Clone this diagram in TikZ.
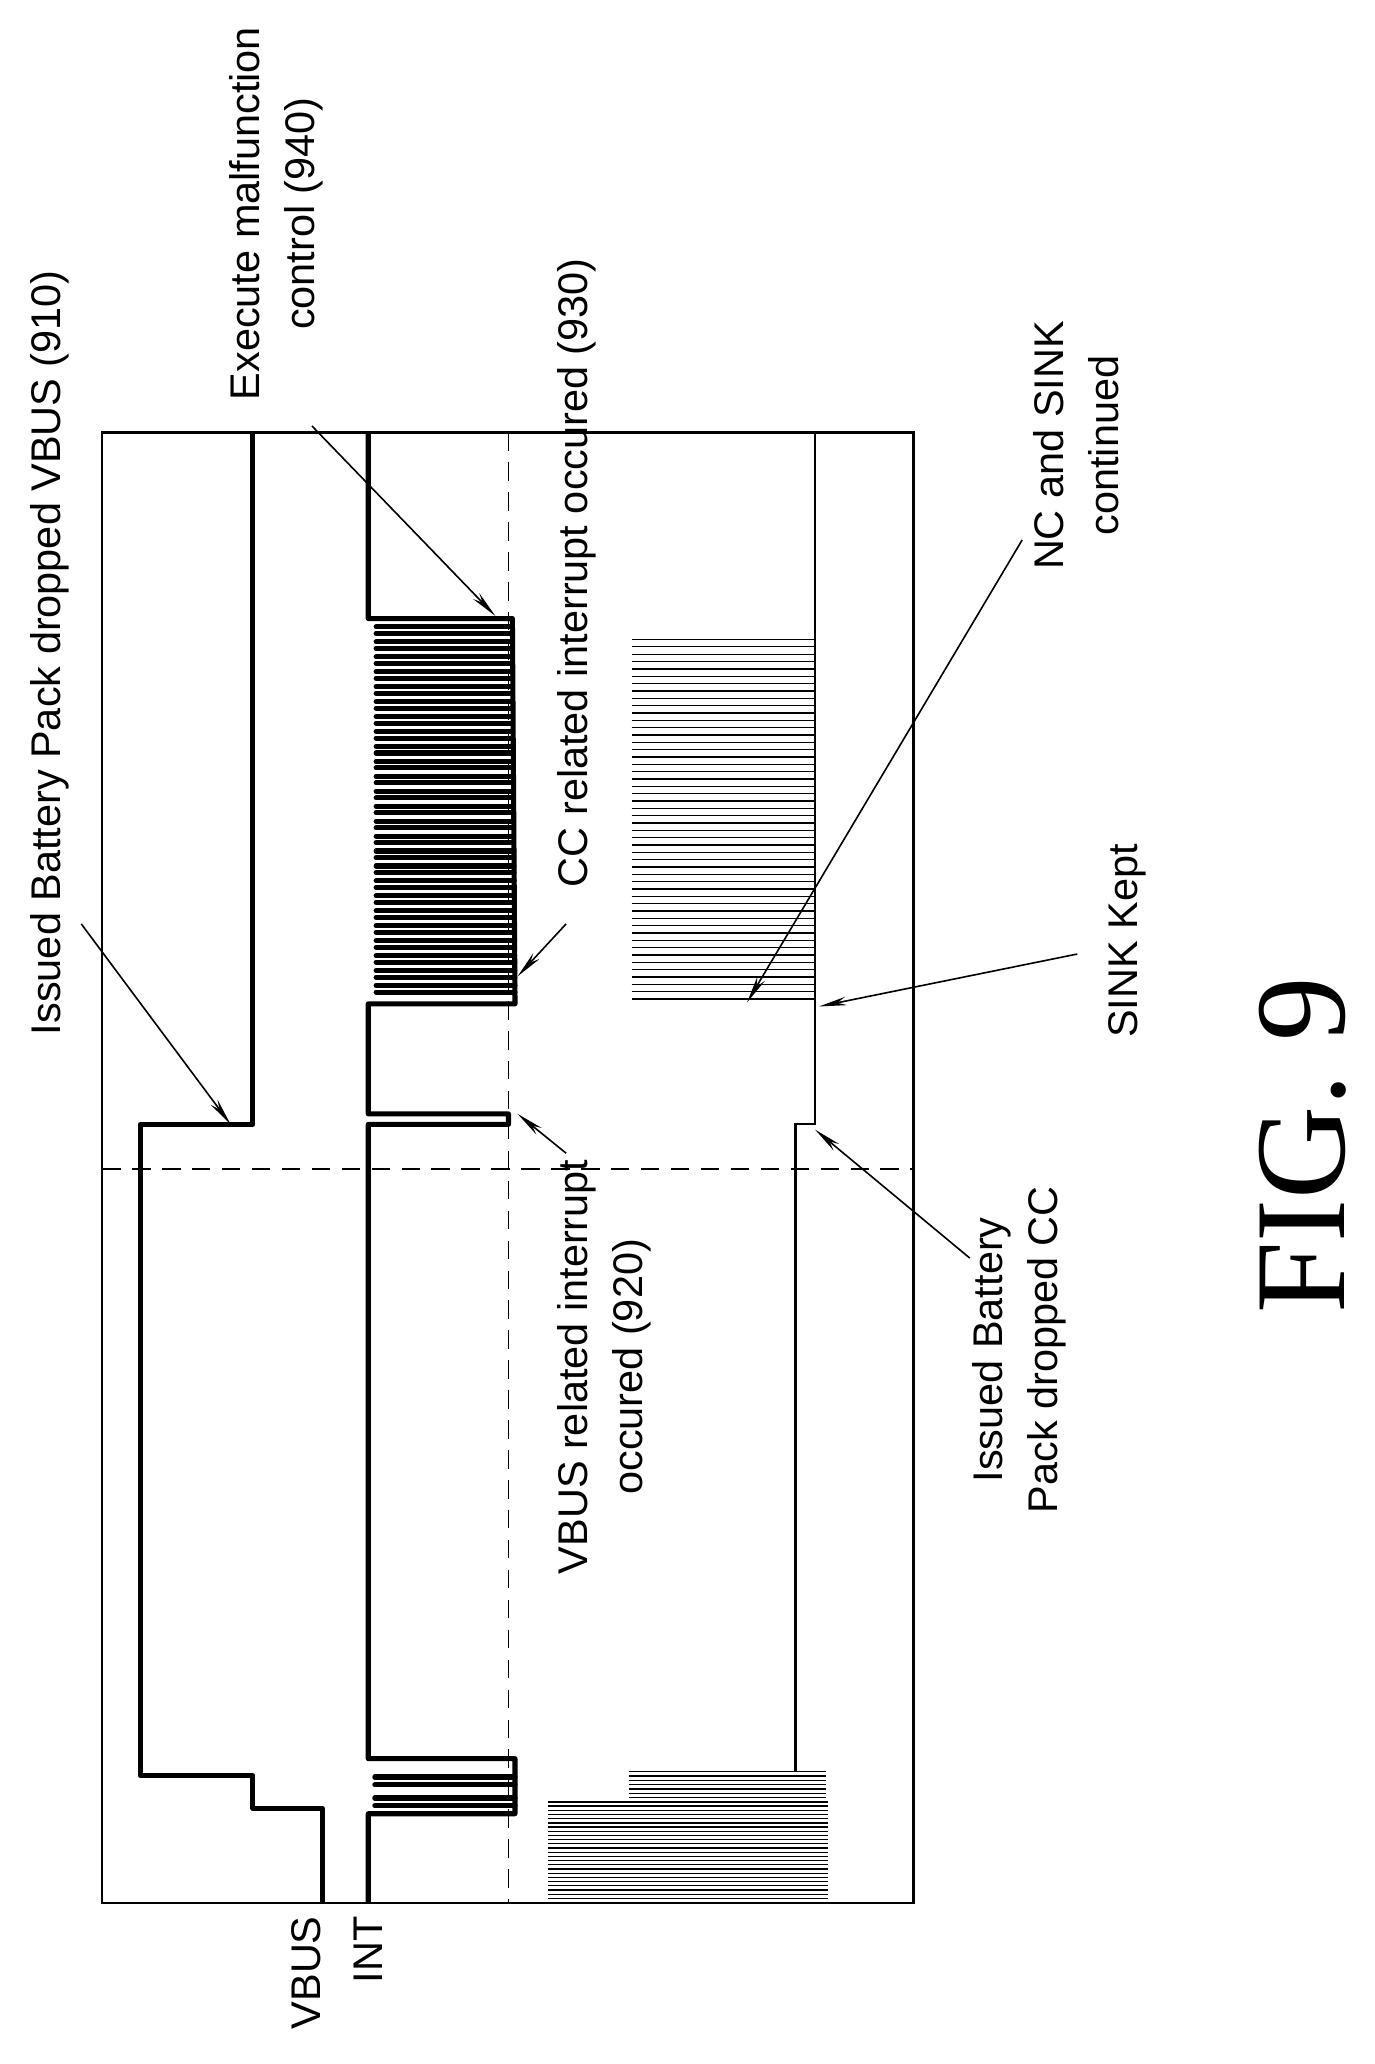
\documentclass[tikz,border=0pt]{standalone}
\usepackage{fontspec}
\setmainfont{Liberation Sans}
\newfontfamily\figfont{Liberation Serif}
\usetikzlibrary{arrows.meta}
\begin{document}
\begin{tikzpicture}[x=0.02cm,y=-0.02cm,
  wave/.style={line width=2.2pt,line join=round},
  thinw/.style={line width=0.9pt},
  hatch/.style={line width=0.55pt},
  lbl/.style={rotate=90,font=\fontsize{18}{24}\selectfont,align=center,inner sep=0pt},
  callout/.style={line width=0.7pt,-{Stealth[length=0.42cm,width=0.13cm]}}]
\useasboundingbox (0,0) rectangle (1049,1575);
\fill[white] (0,0) rectangle (1049,1575);
% frame
\draw[line width=1.1pt] (78,330) rectangle (697,1452);
\draw[dashed,line width=0.6pt,dash pattern=on 8pt off 5pt] (388,330) -- (388,1452);
\draw[dashed,line width=0.6pt,dash pattern=on 8pt off 5pt] (78,892) -- (697,892);
% VBUS
\draw[wave] (246,1452) -- (246,1380) -- (193,1380) -- (193,1355) -- (107,1355) -- (107,858) -- (193,858) -- (193,330);
% INT
\draw[wave] (281,1452) -- (281,1384) -- (393,1384) -- (393,1342) -- (281,1342) -- (281,858) -- (388,858) -- (388,850) -- (281,850) -- (281,766) -- (393,766) -- (391,472) -- (281,472) -- (281,330);
\foreach \y in {1372,1356}{
  \draw[wave,line cap=round] (286,\y) -- (393,\y);
  \draw[wave,line cap=round] (286,\y+6) -- (393,\y+6);
}
\foreach \i in {0,...,24}{
  \pgfmathsetmacro{\yy}{757-\i*11.4}
  \pgfmathsetmacro{\xr}{393-\i*0.1}
  \draw[wave,line cap=round] (287,\yy) -- (\xr,\yy);
  \draw[wave,line cap=round] (287,\yy-5) -- (\xr,\yy-5);
}
% SINK line
\draw[thinw] (607,1352) -- (607,858) -- (622,858) -- (622,330);
% hatch blocks
\foreach \y in {488,493.6,...,766}{ \draw[hatch] (482,\y) -- (622,\y); }
\foreach \y in {1375,1378.2,...,1450}{ \draw[hatch] (418,\y) -- (632,\y); }
\foreach \y in {1352,1355.3,...,1372}{ \draw[hatch] (480,\y) -- (630,\y); }
% labels
\node[lbl] (l910) at (38,498) {Issued Battery Pack dropped VBUS (910)};
\node[lbl] (l940) at (211,163) {Execute malfunction\\control (940)};
\node[lbl] (l930) at (440,437) {CC related interrupt occured (930)};
\node[lbl] (l920) at (461,1043) {VBUS related interrupt\\occured (920)};
\node[lbl] (lnc) at (821,340) {NC and SINK\\continued};
\node[lbl] (lsk) at (860,718) {SINK Kept};
\node[lbl] (lcc) at (778,1030) {Issued Battery\\Pack dropped CC};
\node[lbl,anchor=east] (lv) at (234,1462) {VBUS};
\node[lbl,anchor=east] (li) at (281,1462) {INT};
\node[rotate=90,inner sep=0pt,font=\figfont\fontsize{56}{56}\selectfont] (fig) at (994,874) {FIG. 9};
% callouts
\coordinate (a1s) at (62,705); \coordinate (a1e) at (176,858);
\coordinate (a2s) at (238,325); \coordinate (a2e) at (378,470);
\coordinate (a3s) at (432,705); \coordinate (a3e) at (395,745);
\coordinate (a4s) at (432,880); \coordinate (a4e) at (395,850);
\coordinate (a5s) at (780,412); \coordinate (a5e) at (570,765);
\coordinate (a6s) at (822,728); \coordinate (a6e) at (625,768);
\coordinate (a7s) at (740,960); \coordinate (a7e) at (622,862);
\foreach \n in {1,...,7}{ \draw[callout] (a\n s) -- (a\n e); }
\end{tikzpicture}
\end{document}
